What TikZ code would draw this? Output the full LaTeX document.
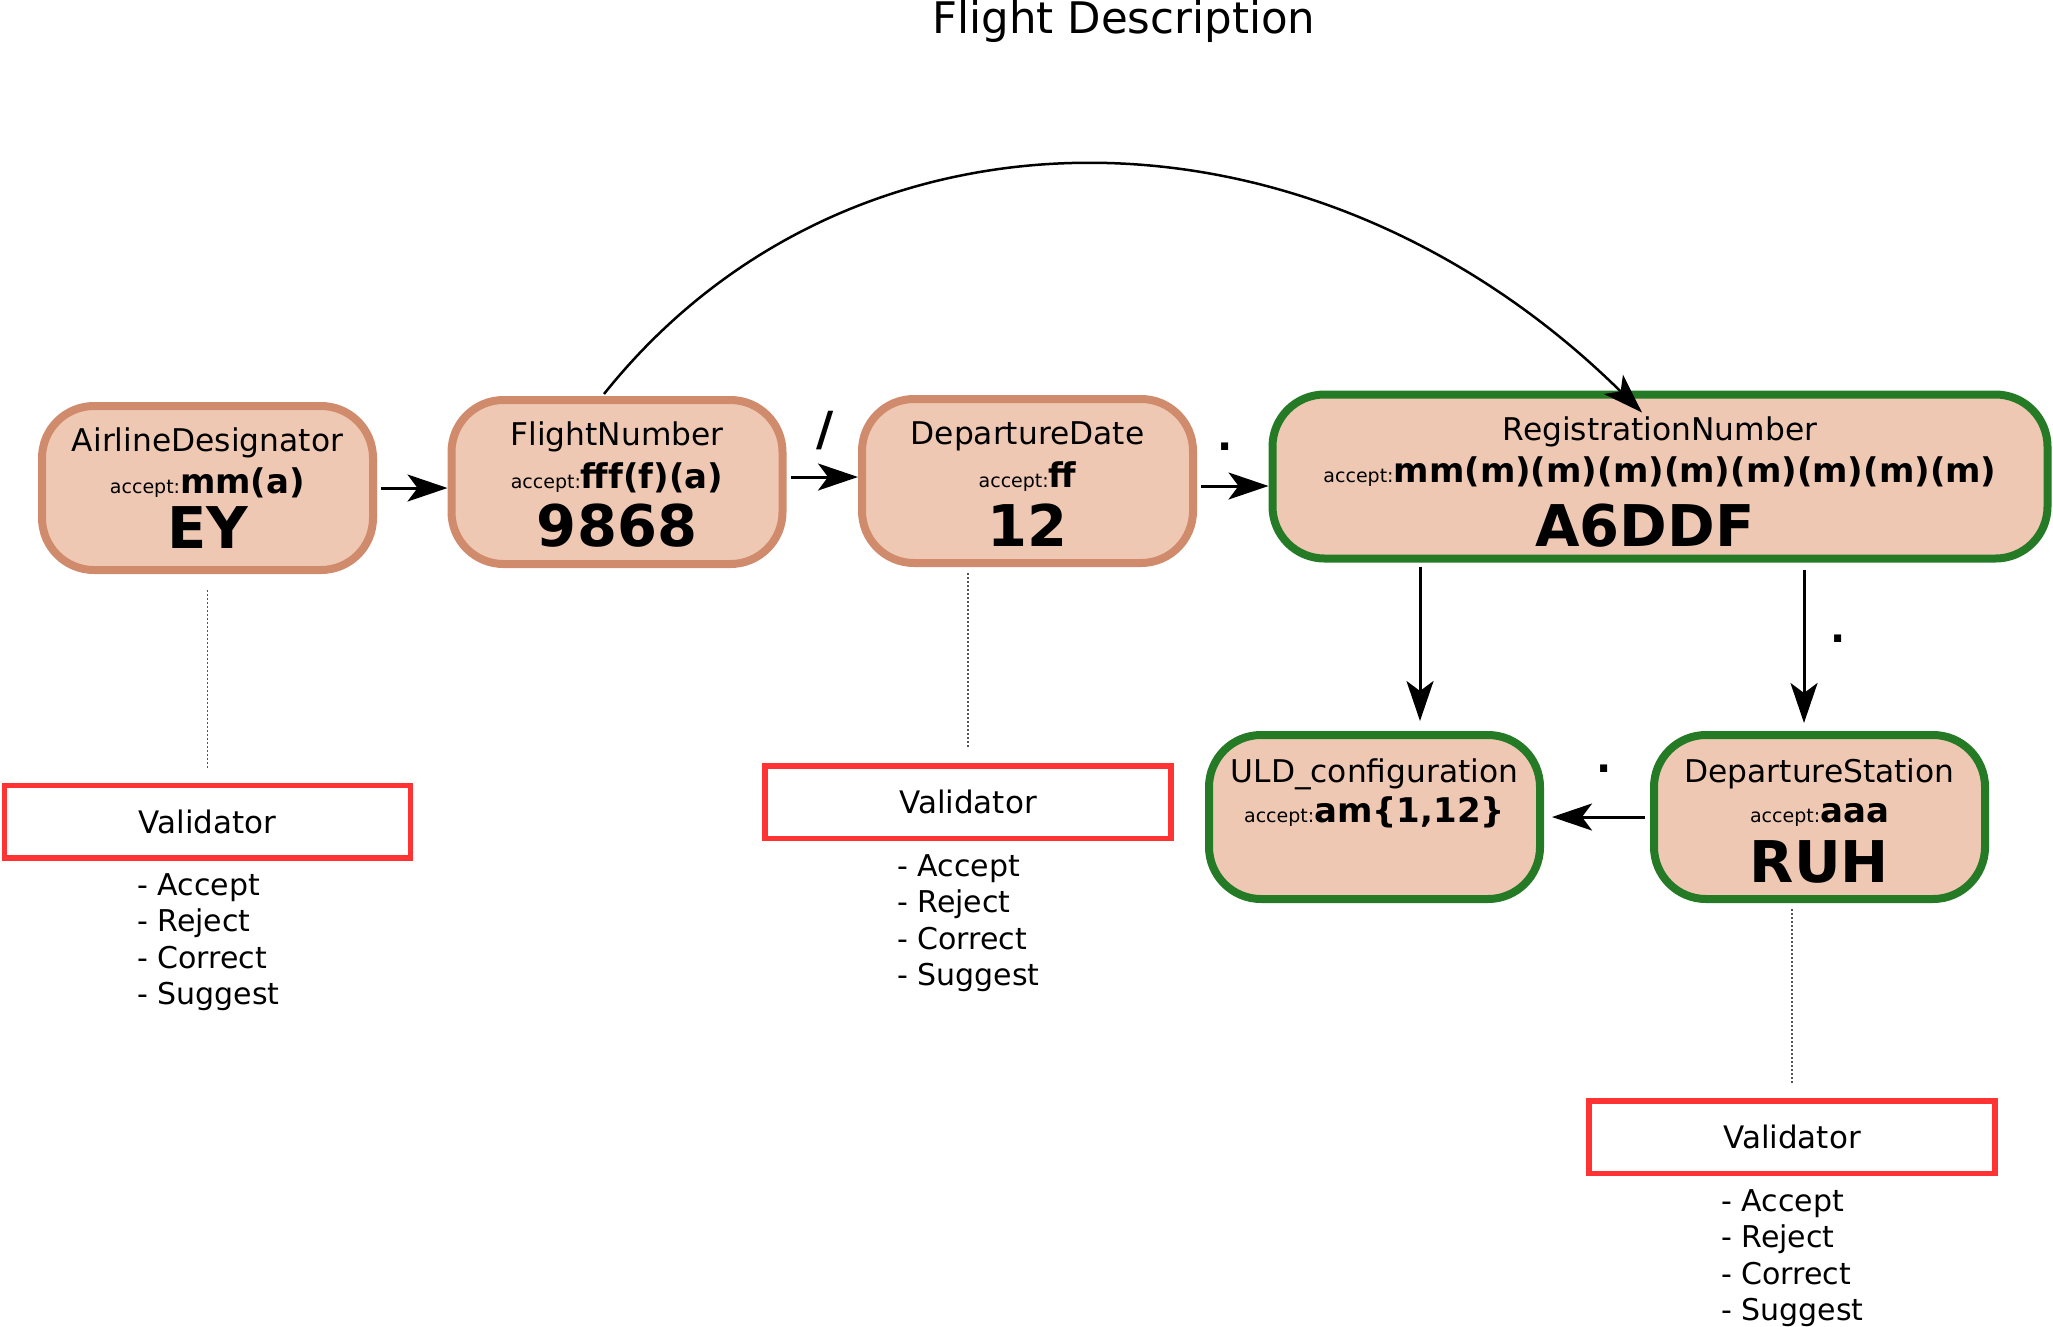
\documentclass[tikz,border=0pt]{standalone}
\usepackage{fontspec}
\setmainfont{DejaVu Sans}
\usetikzlibrary{arrows.meta,calc}
\definecolor{peach}{HTML}{EFC8B3}
\definecolor{brownb}{HTML}{D08B6D}
\definecolor{greenb}{HTML}{257A25}
\definecolor{redb}{HTML}{FF3333}
\definecolor{dotgray}{HTML}{555555}
\begin{document}
\begin{tikzpicture}[x=1pt,y=-1pt,
  fbox/.style={draw=brownb, fill=peach, line width=8pt, rounded corners=52pt,
    minimum width=331pt, minimum height=164pt, inner sep=0pt},
  gbox/.style={fbox, draw=greenb},
  vbox/.style={draw=redb, line width=5.5pt, minimum width=406pt, minimum height=72.5pt,
    inner sep=0pt, font=\fontsize{31}{31}\selectfont},
  lbl/.style={anchor=base, inner sep=0pt, font=\fontsize{31.3}{31.3}\selectfont},
  acc/.style={anchor=base, inner sep=0pt},
  val/.style={anchor=base, inner sep=0pt, font=\fontsize{57.5}{57.5}\selectfont\bfseries},
  vlist/.style={anchor=north west, inner sep=0pt, align=left, font=\fontsize{30}{36.5}\selectfont},
  sepmark/.style={inner sep=0pt, font=\fontsize{40}{40}\selectfont\bfseries},
  arr/.style={line width=3pt, -{Stealth[length=40pt,width=27pt,inset=10pt]}},
  dotline/.style={line width=1.5pt, draw=dotgray, dash pattern=on 2pt off 2pt}
]
\useasboundingbox (0,0) rectangle (2053,1326);

\newcommand{\acctext}[1]{{\fontsize{19}{19}\selectfont accept:}{\fontsize{34}{34}\selectfont\bfseries #1}}

% title
\node[anchor=base, inner sep=0pt, font=\fontsize{43.5}{43.5}\selectfont] (title) at (1124,33) {Flight Description};

% boxes
\node[fbox] (AD) at (207.5,488) {};
\node[fbox] (FN) at (617,482) {};
\node[fbox] (DD) at (1027.5,481) {};
\node[gbox, minimum width=775pt] (RN) at (1660,476.5) {};
\node[gbox] (ULD) at (1374.5,817) {};
\node[gbox] (DS) at (1819.5,817) {};

% box texts
\node[lbl] (ADl) at (207.5,451) {AirlineDesignator};
\node[acc] (ADa) at (207.5,493) {\acctext{mm(a)}};
\node[val] (ADv) at (207.5,548) {EY};

\node[lbl] (FNl) at (617,445) {FlightNumber};
\node[acc] (FNa) at (617,488) {\acctext{fff(f)(a)}};
\node[val] (FNv) at (617,546) {9868};

\node[lbl] (DDl) at (1027.5,444) {DepartureDate};
\node[acc] (DDa) at (1027.5,487) {\acctext{ff}};
\node[val] (DDv) at (1027.5,546) {12};

\node[lbl] (RNl) at (1660,440) {RegistrationNumber};
\node[acc] (RNa) at (1660,482) {\acctext{mm(m)(m)(m)(m)(m)(m)(m)(m)}};
\node[val] (RNv) at (1645,546) {A6DDF};

\node[lbl] (ULDl) at (1374.5,782) {ULD\_configuration};
\node[acc] (ULDa) at (1374.5,822) {\acctext{am\{1,12\}}};

\node[lbl] (DSl) at (1819.5,782) {DepartureStation};
\node[acc] (DSa) at (1819.5,822) {\acctext{aaa}};
\node[val] (DSv) at (1819.5,882) {RUH};

% separators
\node[inner sep=0pt, font=\fontsize{47}{47}\selectfont\bfseries] (s1) at (825,431) {/};
\node[sepmark] (s2) at (1225,447) {.};
\node[sepmark] (s3) at (1838,639) {.};
\node[sepmark] (s4) at (1604,769) {.};

% validators
\node[vbox] (VA) at (207.5,821.5) {Validator};
\node[vbox] (VB) at (968,802) {Validator};
\node[vbox] (VC) at (1792,1137) {Validator};

\node[vlist] (LA) at (137,873) {- Accept\\- Reject\\- Correct\\- Suggest};
\node[vlist] (LB) at (897,854) {- Accept\\- Reject\\- Correct\\- Suggest};
\node[vlist] (LC) at (1721,1189) {- Accept\\- Reject\\- Correct\\- Suggest};

% dotted links
\draw[dotline] ($(VA.north |- AD.south)+(0,16)$) -- ($(VA.north)+(0,-15)$);
\draw[dotline] ($(VB.north |- DD.south)+(0,6)$) -- ($(VB.north)+(0,-15)$);
\draw[dotline] ($(VC.north |- DS.south)+(0,6)$) -- ($(VC.north)+(0,-15)$);

% arrows
\draw[arr] ($(AD.east)+(4,0)$) -- (AD.east -| FN.west);
\draw[arr] ($(FN.east)+(4,-5)$) -- ($(FN.east -| DD.west)+(0,-5)$);
\draw[arr] ($(DD.east)+(4,5)$) -- ($(DD.east -| RN.west)+(0,5)$);
\draw[arr] ($(RN.south)+(-240,4)$) -- ($(ULD.north)+(45.5,-10)$);
\draw[arr] ($(RN.south)+(144,7)$) -- ($(DS.north)+(-15.5,-8)$);
\draw[arr] ($(DS.west)+(-5,0)$) -- ($(ULD.east)+(8,0)$);
\draw[arr, line width=2.5pt] ($(FN.north)+(-13,-2)$) .. controls (850,86) and (1311,86) .. ($(RN.north)+(-18,22)$);
\end{tikzpicture}
\end{document}
